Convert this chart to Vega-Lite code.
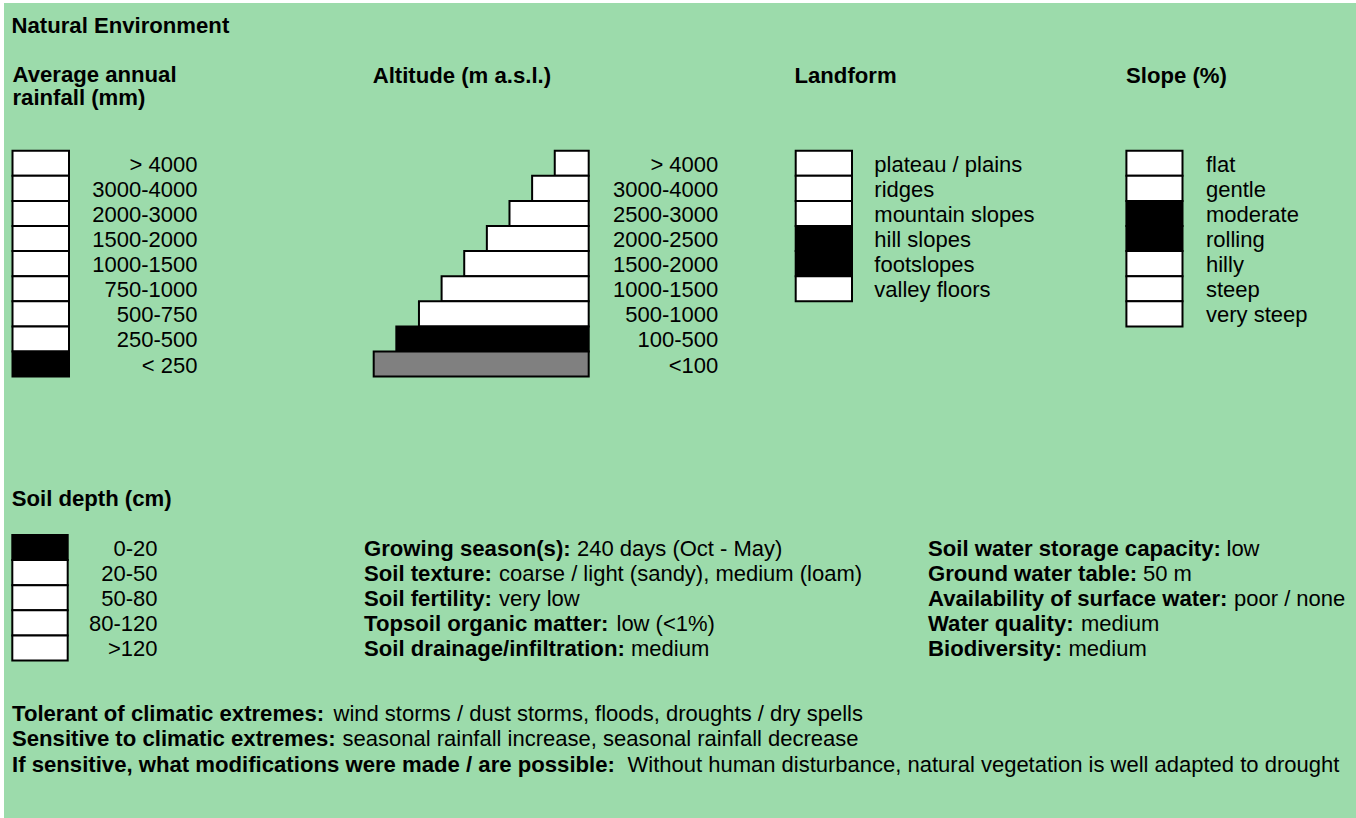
{
  "$schema": "https://vega.github.io/schema/vega-lite/v6.json",
  "width": 1352,
  "height": 815,
  "padding": {"left": 4, "top": 3, "right": 0, "bottom": 0},
  "autosize": {"type": "none"},
  "background": "#ffffff",
  "config": {
    "view": {"stroke": null, "fill": "#9CDBAB"},
    "axis": {"disable": true},
    "text": {"font": "Liberation Sans", "fontSize": 22, "color": "#000000"}
  },
  "datasets": {
    "headings": [
      {"heading": "Natural Environment"},
      {"heading": "Average annual\nrainfall (mm)"},
      {"heading": "Altitude (m a.s.l.)"},
      {"heading": "Landform"},
      {"heading": "Slope (%)"},
      {"heading": "Soil depth (cm)"}
    ],
    "rainfall": [
      {"rainfall": "> 4000", "status": "unselected"},
      {"rainfall": "3000-4000", "status": "unselected"},
      {"rainfall": "2000-3000", "status": "unselected"},
      {"rainfall": "1500-2000", "status": "unselected"},
      {"rainfall": "1000-1500", "status": "unselected"},
      {"rainfall": "750-1000", "status": "unselected"},
      {"rainfall": "500-750", "status": "unselected"},
      {"rainfall": "250-500", "status": "unselected"},
      {"rainfall": "< 250", "status": "selected"}
    ],
    "altitude": [
      {"altitude": "> 4000", "step": 1, "status": "unselected"},
      {"altitude": "3000-4000", "step": 2, "status": "unselected"},
      {"altitude": "2500-3000", "step": 3, "status": "unselected"},
      {"altitude": "2000-2500", "step": 4, "status": "unselected"},
      {"altitude": "1500-2000", "step": 5, "status": "unselected"},
      {"altitude": "1000-1500", "step": 6, "status": "unselected"},
      {"altitude": "500-1000", "step": 7, "status": "unselected"},
      {"altitude": "100-500", "step": 8, "status": "selected"},
      {"altitude": "<100", "step": 9, "status": "partly"}
    ],
    "landform": [
      {"landform": "plateau / plains", "status": "unselected"},
      {"landform": "ridges", "status": "unselected"},
      {"landform": "mountain slopes", "status": "unselected"},
      {"landform": "hill slopes", "status": "selected"},
      {"landform": "footslopes", "status": "selected"},
      {"landform": "valley floors", "status": "unselected"}
    ],
    "slope": [
      {"slope": "flat", "status": "unselected"},
      {"slope": "gentle", "status": "unselected"},
      {"slope": "moderate", "status": "selected"},
      {"slope": "rolling", "status": "selected"},
      {"slope": "hilly", "status": "unselected"},
      {"slope": "steep", "status": "unselected"},
      {"slope": "very steep", "status": "unselected"}
    ],
    "soildepth": [
      {"depth": "0-20", "status": "selected"},
      {"depth": "20-50", "status": "unselected"},
      {"depth": "50-80", "status": "unselected"},
      {"depth": "80-120", "status": "unselected"},
      {"depth": ">120", "status": "unselected"}
    ],
    "site": [
      {"property": "Growing season(s):", "value": "240 days (Oct - May)"},
      {"property": "Soil texture:", "value": "coarse / light (sandy), medium (loam)"},
      {"property": "Soil fertility:", "value": "very low"},
      {"property": "Topsoil organic matter:", "value": "low (<1%)"},
      {"property": "Soil drainage/infiltration:", "value": "medium"}
    ],
    "water": [
      {"property": "Soil water storage capacity:", "value": "low"},
      {"property": "Ground water table:", "value": "50 m"},
      {"property": "Availability of surface water:", "value": "poor / none"},
      {"property": "Water quality:", "value": "medium"},
      {"property": "Biodiversity:", "value": "medium"}
    ],
    "climate": [
      {"property": "Tolerant of climatic extremes:", "value": "wind storms / dust storms, floods, droughts / dry spells"},
      {"property": "Sensitive to climatic extremes:", "value": "seasonal rainfall increase, seasonal rainfall decrease"},
      {"property": "If sensitive, what modifications were made / are possible:", "value": "Without human disturbance, natural vegetation is well adapted to drought"}
    ]
  },
  "resolve": {"scale": {"x": "independent", "y": "independent"}},
  "layer": [
    {
      "data": {"name": "headings"},
      "layer": [
        {
          "transform": [{"filter": {"field": "heading", "equal": "Natural Environment"}}],
          "mark": {"type": "text", "fontWeight": "bold", "fontSize": 22.15, "align": "left", "baseline": "alphabetic"},
          "encoding": {
            "x": {"datum": 7.5, "type": "quantitative", "scale": {"type": "linear", "domain": [0, 1352], "range": [0, 1352], "nice": false, "zero": false}},
            "y": {"datum": 29.7, "type": "quantitative", "scale": {"type": "linear", "domain": [0, 815], "range": [0, 815], "nice": false, "zero": false}},
            "text": {"field": "heading", "type": "nominal"}
          }
        },
        {
          "transform": [{"filter": {"field": "heading", "equal": "Average annual\nrainfall (mm)"}}],
          "mark": {"type": "text", "fontWeight": "bold", "fontSize": 22.15, "align": "left", "baseline": "alphabetic", "lineBreak": "\n", "lineHeight": 22.5},
          "encoding": {
            "x": {"datum": 8.5, "type": "quantitative", "scale": {"type": "linear", "domain": [0, 1352], "range": [0, 1352], "nice": false, "zero": false}},
            "y": {"datum": 79.3, "type": "quantitative", "scale": {"type": "linear", "domain": [0, 815], "range": [0, 815], "nice": false, "zero": false}},
            "text": {"field": "heading", "type": "nominal"}
          }
        },
        {
          "transform": [{"filter": {"field": "heading", "equal": "Altitude (m a.s.l.)"}}],
          "mark": {"type": "text", "fontWeight": "bold", "fontSize": 22.15, "align": "left", "baseline": "alphabetic"},
          "encoding": {
            "x": {"datum": 368.7, "type": "quantitative", "scale": {"type": "linear", "domain": [0, 1352], "range": [0, 1352], "nice": false, "zero": false}},
            "y": {"datum": 80.3, "type": "quantitative", "scale": {"type": "linear", "domain": [0, 815], "range": [0, 815], "nice": false, "zero": false}},
            "text": {"field": "heading", "type": "nominal"}
          }
        },
        {
          "transform": [{"filter": {"field": "heading", "equal": "Landform"}}],
          "mark": {"type": "text", "fontWeight": "bold", "fontSize": 22.15, "align": "left", "baseline": "alphabetic"},
          "encoding": {
            "x": {"datum": 790.5, "type": "quantitative", "scale": {"type": "linear", "domain": [0, 1352], "range": [0, 1352], "nice": false, "zero": false}},
            "y": {"datum": 80.3, "type": "quantitative", "scale": {"type": "linear", "domain": [0, 815], "range": [0, 815], "nice": false, "zero": false}},
            "text": {"field": "heading", "type": "nominal"}
          }
        },
        {
          "transform": [{"filter": {"field": "heading", "equal": "Slope (%)"}}],
          "mark": {"type": "text", "fontWeight": "bold", "fontSize": 22.15, "align": "left", "baseline": "alphabetic"},
          "encoding": {
            "x": {"datum": 1122, "type": "quantitative", "scale": {"type": "linear", "domain": [0, 1352], "range": [0, 1352], "nice": false, "zero": false}},
            "y": {"datum": 80.3, "type": "quantitative", "scale": {"type": "linear", "domain": [0, 815], "range": [0, 815], "nice": false, "zero": false}},
            "text": {"field": "heading", "type": "nominal"}
          }
        },
        {
          "transform": [{"filter": {"field": "heading", "equal": "Soil depth (cm)"}}],
          "mark": {"type": "text", "fontWeight": "bold", "fontSize": 22.15, "align": "left", "baseline": "alphabetic"},
          "encoding": {
            "x": {"datum": 7.7, "type": "quantitative", "scale": {"type": "linear", "domain": [0, 1352], "range": [0, 1352], "nice": false, "zero": false}},
            "y": {"datum": 503, "type": "quantitative", "scale": {"type": "linear", "domain": [0, 815], "range": [0, 815], "nice": false, "zero": false}},
            "text": {"field": "heading", "type": "nominal"}
          }
        }
      ]
    },
    {
      "data": {"name": "rainfall"},
      "encoding": {"y": {"field": "rainfall", "type": "nominal", "sort": null, "scale": {"type": "band", "range": [147.7, 373.6], "paddingInner": 0, "paddingOuter": 0}}},
      "layer": [
        {
          "mark": {"type": "rect", "stroke": "#000000", "strokeWidth": 2},
          "encoding": {
            "x": {"datum": 8.5, "type": "quantitative", "scale": {"type": "linear", "domain": [0, 1352], "range": [0, 1352], "nice": false, "zero": false}},
            "x2": {"datum": 65},
            "fill": {"field": "status", "type": "nominal", "scale": {"domain": ["unselected", "selected", "partly"], "range": ["#ffffff", "#000000", "#808080"]}, "legend": null}
          }
        },
        {
          "mark": {"type": "text", "align": "right", "baseline": "middle", "dy": 1.5},
          "encoding": {
            "x": {"datum": 193.5, "type": "quantitative", "scale": {"type": "linear", "domain": [0, 1352], "range": [0, 1352], "nice": false, "zero": false}},
            "text": {"field": "rainfall", "type": "nominal"}
          }
        }
      ]
    },
    {
      "data": {"name": "altitude"},
      "encoding": {"y": {"field": "altitude", "type": "nominal", "sort": null, "scale": {"type": "band", "range": [147.7, 373.6], "paddingInner": 0, "paddingOuter": 0}}},
      "resolve": {"scale": {"x": "independent"}},
      "layer": [
        {
          "mark": {"type": "rect", "stroke": "#000000", "strokeWidth": 2},
          "encoding": {
            "x": {"field": "step", "type": "quantitative", "scale": {"type": "linear", "domain": [-0.5, 9], "range": [584.7, 369.7], "nice": false, "zero": false}},
            "x2": {"datum": -0.5},
            "fill": {"field": "status", "type": "nominal", "scale": {"domain": ["unselected", "selected", "partly"], "range": ["#ffffff", "#000000", "#808080"]}, "legend": null}
          }
        },
        {
          "mark": {"type": "text", "align": "right", "baseline": "middle", "dy": 1.5},
          "encoding": {
            "x": {"datum": 714.3, "type": "quantitative", "scale": {"type": "linear", "domain": [0, 1352], "range": [0, 1352], "nice": false, "zero": false}},
            "text": {"field": "altitude", "type": "nominal"}
          }
        }
      ]
    },
    {
      "data": {"name": "landform"},
      "encoding": {"y": {"field": "landform", "type": "nominal", "sort": null, "scale": {"type": "band", "range": [147.7, 298.3], "paddingInner": 0, "paddingOuter": 0}}},
      "layer": [
        {
          "mark": {"type": "rect", "stroke": "#000000", "strokeWidth": 2},
          "encoding": {
            "x": {"datum": 791.7, "type": "quantitative", "scale": {"type": "linear", "domain": [0, 1352], "range": [0, 1352], "nice": false, "zero": false}},
            "x2": {"datum": 848},
            "fill": {"field": "status", "type": "nominal", "scale": {"domain": ["unselected", "selected", "partly"], "range": ["#ffffff", "#000000", "#808080"]}, "legend": null}
          }
        },
        {
          "mark": {"type": "text", "align": "left", "baseline": "middle", "dy": 1.5},
          "encoding": {
            "x": {"datum": 870.3, "type": "quantitative", "scale": {"type": "linear", "domain": [0, 1352], "range": [0, 1352], "nice": false, "zero": false}},
            "text": {"field": "landform", "type": "nominal"}
          }
        }
      ]
    },
    {
      "data": {"name": "slope"},
      "encoding": {"y": {"field": "slope", "type": "nominal", "sort": null, "scale": {"type": "band", "range": [147.7, 323.4], "paddingInner": 0, "paddingOuter": 0}}},
      "layer": [
        {
          "mark": {"type": "rect", "stroke": "#000000", "strokeWidth": 2},
          "encoding": {
            "x": {"datum": 1122.4, "type": "quantitative", "scale": {"type": "linear", "domain": [0, 1352], "range": [0, 1352], "nice": false, "zero": false}},
            "x2": {"datum": 1178.5},
            "fill": {"field": "status", "type": "nominal", "scale": {"domain": ["unselected", "selected", "partly"], "range": ["#ffffff", "#000000", "#808080"]}, "legend": null}
          }
        },
        {
          "mark": {"type": "text", "align": "left", "baseline": "middle", "dy": 1.5},
          "encoding": {
            "x": {"datum": 1202, "type": "quantitative", "scale": {"type": "linear", "domain": [0, 1352], "range": [0, 1352], "nice": false, "zero": false}},
            "text": {"field": "slope", "type": "nominal"}
          }
        }
      ]
    },
    {
      "data": {"name": "soildepth"},
      "encoding": {"y": {"field": "depth", "type": "nominal", "sort": null, "scale": {"type": "band", "range": [532, 657.5], "paddingInner": 0, "paddingOuter": 0}}},
      "layer": [
        {
          "mark": {"type": "rect", "stroke": "#000000", "strokeWidth": 2},
          "encoding": {
            "x": {"datum": 8.3, "type": "quantitative", "scale": {"type": "linear", "domain": [0, 1352], "range": [0, 1352], "nice": false, "zero": false}},
            "x2": {"datum": 63.7},
            "fill": {"field": "status", "type": "nominal", "scale": {"domain": ["unselected", "selected", "partly"], "range": ["#ffffff", "#000000", "#808080"]}, "legend": null}
          }
        },
        {
          "mark": {"type": "text", "align": "right", "baseline": "middle", "dy": 1.5},
          "encoding": {
            "x": {"datum": 153.5, "type": "quantitative", "scale": {"type": "linear", "domain": [0, 1352], "range": [0, 1352], "nice": false, "zero": false}},
            "text": {"field": "depth", "type": "nominal"}
          }
        }
      ]
    },
    {
      "data": {"name": "site"},
      "encoding": {"y": {"field": "property", "type": "nominal", "sort": null, "scale": {"type": "band", "range": [532, 657.5], "paddingInner": 0, "paddingOuter": 0}}},
      "layer": [
        {
          "mark": {"type": "text", "fontWeight": "bold", "fontSize": 22.15, "align": "left", "baseline": "middle", "dy": 1.5},
          "encoding": {
            "x": {"datum": 360, "type": "quantitative", "scale": {"type": "linear", "domain": [0, 1352], "range": [0, 1352], "nice": false, "zero": false}},
            "text": {"field": "property", "type": "nominal"}
          }
        },
        {
          "transform": [{"filter": {"field": "property", "equal": "Growing season(s):"}}],
          "mark": {"type": "text", "align": "left", "baseline": "middle", "dy": 1.5},
          "encoding": {"x": {"datum": 573, "type": "quantitative", "scale": {"type": "linear", "domain": [0, 1352], "range": [0, 1352], "nice": false, "zero": false}}, "text": {"field": "value", "type": "nominal"}}
        },
        {
          "transform": [{"filter": {"field": "property", "equal": "Soil texture:"}}],
          "mark": {"type": "text", "align": "left", "baseline": "middle", "dy": 1.5},
          "encoding": {"x": {"datum": 495, "type": "quantitative", "scale": {"type": "linear", "domain": [0, 1352], "range": [0, 1352], "nice": false, "zero": false}}, "text": {"field": "value", "type": "nominal"}}
        },
        {
          "transform": [{"filter": {"field": "property", "equal": "Soil fertility:"}}],
          "mark": {"type": "text", "align": "left", "baseline": "middle", "dy": 1.5},
          "encoding": {"x": {"datum": 495, "type": "quantitative", "scale": {"type": "linear", "domain": [0, 1352], "range": [0, 1352], "nice": false, "zero": false}}, "text": {"field": "value", "type": "nominal"}}
        },
        {
          "transform": [{"filter": {"field": "property", "equal": "Topsoil organic matter:"}}],
          "mark": {"type": "text", "align": "left", "baseline": "middle", "dy": 1.5},
          "encoding": {"x": {"datum": 612.5, "type": "quantitative", "scale": {"type": "linear", "domain": [0, 1352], "range": [0, 1352], "nice": false, "zero": false}}, "text": {"field": "value", "type": "nominal"}}
        },
        {
          "transform": [{"filter": {"field": "property", "equal": "Soil drainage/infiltration:"}}],
          "mark": {"type": "text", "align": "left", "baseline": "middle", "dy": 1.5},
          "encoding": {"x": {"datum": 627, "type": "quantitative", "scale": {"type": "linear", "domain": [0, 1352], "range": [0, 1352], "nice": false, "zero": false}}, "text": {"field": "value", "type": "nominal"}}
        }
      ]
    },
    {
      "data": {"name": "water"},
      "encoding": {"y": {"field": "property", "type": "nominal", "sort": null, "scale": {"type": "band", "range": [532, 657.5], "paddingInner": 0, "paddingOuter": 0}}},
      "layer": [
        {
          "mark": {"type": "text", "fontWeight": "bold", "fontSize": 22.15, "align": "left", "baseline": "middle", "dy": 1.5},
          "encoding": {
            "x": {"datum": 924, "type": "quantitative", "scale": {"type": "linear", "domain": [0, 1352], "range": [0, 1352], "nice": false, "zero": false}},
            "text": {"field": "property", "type": "nominal"}
          }
        },
        {
          "transform": [{"filter": {"field": "property", "equal": "Soil water storage capacity:"}}],
          "mark": {"type": "text", "align": "left", "baseline": "middle", "dy": 1.5},
          "encoding": {"x": {"datum": 1222.5, "type": "quantitative", "scale": {"type": "linear", "domain": [0, 1352], "range": [0, 1352], "nice": false, "zero": false}}, "text": {"field": "value", "type": "nominal"}}
        },
        {
          "transform": [{"filter": {"field": "property", "equal": "Ground water table:"}}],
          "mark": {"type": "text", "align": "left", "baseline": "middle", "dy": 1.5},
          "encoding": {"x": {"datum": 1139, "type": "quantitative", "scale": {"type": "linear", "domain": [0, 1352], "range": [0, 1352], "nice": false, "zero": false}}, "text": {"field": "value", "type": "nominal"}}
        },
        {
          "transform": [{"filter": {"field": "property", "equal": "Availability of surface water:"}}],
          "mark": {"type": "text", "align": "left", "baseline": "middle", "dy": 1.5},
          "encoding": {"x": {"datum": 1230, "type": "quantitative", "scale": {"type": "linear", "domain": [0, 1352], "range": [0, 1352], "nice": false, "zero": false}}, "text": {"field": "value", "type": "nominal"}}
        },
        {
          "transform": [{"filter": {"field": "property", "equal": "Water quality:"}}],
          "mark": {"type": "text", "align": "left", "baseline": "middle", "dy": 1.5},
          "encoding": {"x": {"datum": 1077, "type": "quantitative", "scale": {"type": "linear", "domain": [0, 1352], "range": [0, 1352], "nice": false, "zero": false}}, "text": {"field": "value", "type": "nominal"}}
        },
        {
          "transform": [{"filter": {"field": "property", "equal": "Biodiversity:"}}],
          "mark": {"type": "text", "align": "left", "baseline": "middle", "dy": 1.5},
          "encoding": {"x": {"datum": 1064.5, "type": "quantitative", "scale": {"type": "linear", "domain": [0, 1352], "range": [0, 1352], "nice": false, "zero": false}}, "text": {"field": "value", "type": "nominal"}}
        }
      ]
    },
    {
      "data": {"name": "climate"},
      "encoding": {"y": {"field": "property", "type": "nominal", "sort": null, "scale": {"type": "band", "range": [696.45, 772.95], "paddingInner": 0, "paddingOuter": 0}}},
      "layer": [
        {
          "mark": {"type": "text", "fontWeight": "bold", "fontSize": 22.15, "align": "left", "baseline": "middle", "dy": 1.5},
          "encoding": {
            "x": {"datum": 8, "type": "quantitative", "scale": {"type": "linear", "domain": [0, 1352], "range": [0, 1352], "nice": false, "zero": false}},
            "text": {"field": "property", "type": "nominal"}
          }
        },
        {
          "transform": [{"filter": {"field": "property", "equal": "Tolerant of climatic extremes:"}}],
          "mark": {"type": "text", "align": "left", "baseline": "middle", "dy": 1.5},
          "encoding": {"x": {"datum": 329.5, "type": "quantitative", "scale": {"type": "linear", "domain": [0, 1352], "range": [0, 1352], "nice": false, "zero": false}}, "text": {"field": "value", "type": "nominal"}}
        },
        {
          "transform": [{"filter": {"field": "property", "equal": "Sensitive to climatic extremes:"}}],
          "mark": {"type": "text", "align": "left", "baseline": "middle", "dy": 1.5},
          "encoding": {"x": {"datum": 338.5, "type": "quantitative", "scale": {"type": "linear", "domain": [0, 1352], "range": [0, 1352], "nice": false, "zero": false}}, "text": {"field": "value", "type": "nominal"}}
        },
        {
          "transform": [{"filter": {"field": "property", "equal": "If sensitive, what modifications were made / are possible:"}}],
          "mark": {"type": "text", "align": "left", "baseline": "middle", "dy": 1.5},
          "encoding": {"x": {"datum": 623.5, "type": "quantitative", "scale": {"type": "linear", "domain": [0, 1352], "range": [0, 1352], "nice": false, "zero": false}}, "text": {"field": "value", "type": "nominal"}}
        }
      ]
    }
  ]
}
